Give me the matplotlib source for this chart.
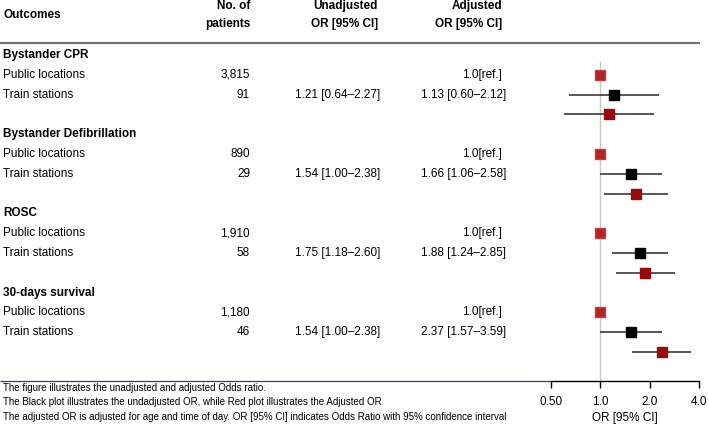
import numpy as np
import matplotlib.pyplot as plt
from matplotlib.ticker import FixedLocator, FixedFormatter, NullLocator

# Data
outcomes = ["Bystander CPR", "Bystander Defibrillation", "ROSC", "30-days survival"]
n_public = ["3,815", "890", "1,910", "1,180"]
n_train = ["91", "29", "58", "46"]
ref_or = [1.0, 1.0, 1.0, 1.0]
unadj_or = [1.21, 1.54, 1.75, 1.54]
unadj_lo = [0.64, 1.00, 1.18, 1.00]
unadj_hi = [2.27, 2.38, 2.60, 2.38]
adj_or = [1.13, 1.66, 1.88, 2.37]
adj_lo = [0.60, 1.06, 1.24, 1.57]
adj_hi = [2.12, 2.58, 2.85, 3.59]
ticks = [0.5, 1.0, 2.0, 4.0]
tick_labels = ["0.50", "1.0", "2.0", "4.0"]
footnotes = [
    "The figure illustrates the unadjusted and adjusted Odds ratio.",
    "The Black plot illustrates the undadjusted OR, while Red plot illustrates the Adjusted OR",
    "The adjusted OR is adjusted for age and time of day. OR [95% CI] indicates Odds Ratio with 95% confidence interval",
]

W, H = 709, 426
fig = plt.figure(figsize=(W / 100, H / 100), dpi=100)

main_font = ['Liberation Sans', 'DejaVu Sans']
narrow_font = ['Liberation Sans Narrow', 'Liberation Sans', 'DejaVu Sans']
fs = 8.5

# row geometry: row i sits at pixel 55 + 19.8*i
row0, step = 55.0, 19.8
def row_of(px):
    return (px - row0) / step

# table axes covering the whole figure, x in pixels, y in rows
tab = fig.add_axes([0, 0, 1, 1])
tab.set_xlim(0, W)
tab.set_ylim(row_of(H), row_of(0))
tab.axis('off')

# headers
tab.text(3, row_of(15), "Outcomes", fontsize=fs, fontweight='bold', family=main_font, va='center')
tab.text(250, row_of(6), "No. of", fontsize=fs, fontweight='bold', family=main_font, va='center', ha='right')
tab.text(250, row_of(24), "patients", fontsize=fs, fontweight='bold', family=main_font, va='center', ha='right')
tab.text(378, row_of(6), "Unadjusted", fontsize=fs, fontweight='bold', family=main_font, va='center', ha='right')
tab.text(378, row_of(24), "OR [95% CI]", fontsize=fs, fontweight='bold', family=main_font, va='center', ha='right')
tab.text(502, row_of(6), "Adjusted", fontsize=fs, fontweight='bold', family=main_font, va='center', ha='right')
tab.text(502, row_of(24), "OR [95% CI]", fontsize=fs, fontweight='bold', family=main_font, va='center', ha='right')
tab.plot([0, 700], [row_of(43)] * 2, color='#707078', lw=1.5, solid_capstyle='butt')

for g, name in enumerate(outcomes):
    r = 4 * g
    tab.text(3, r, name, fontsize=fs, fontweight='bold', family=main_font, va='center')
    tab.text(3, r + 1, "Public locations", fontsize=fs, family=main_font, va='center')
    tab.text(3, r + 2, "Train stations", fontsize=fs, family=main_font, va='center')
    tab.text(250, r + 1, n_public[g], fontsize=fs, family=main_font, va='center', ha='right')
    tab.text(250, r + 2, n_train[g], fontsize=fs, family=main_font, va='center', ha='right')
    tab.text(502, r + 1, f"{ref_or[g]:.1f}[ref.]", fontsize=fs, family=main_font, va='center', ha='right')
    tab.text(380, r + 2, f"{unadj_or[g]:.2f} [{unadj_lo[g]:.2f}\u2013{unadj_hi[g]:.2f}]",
             fontsize=fs, family=main_font, va='center', ha='right')
    tab.text(506, r + 2, f"{adj_or[g]:.2f} [{adj_lo[g]:.2f}\u2013{adj_hi[g]:.2f}]",
             fontsize=fs, family=main_font, va='center', ha='right')

# footnote separator and notes
tab.plot([0, 551], [row_of(381)] * 2, color='#3a3a6e', lw=0.9, solid_capstyle='butt')
for k, note in enumerate(footnotes):
    tab.text(3, row_of(388 + 14.5 * k), note, fontsize=7, family=narrow_font, va='center')

# forest plot axes
ax = fig.add_axes([551 / W, 1 - 381 / H, 148 / W, (381 - 43) / H])
ax.set_xscale('log', base=2)
ax.set_xlim(0.5, 4.0)
ax.set_ylim(row_of(381), row_of(43))
ax.patch.set_alpha(0)

y_top = (row_of(381) - row_of(62)) / (row_of(381) - row_of(43))
ax.axvline(1.0, ymin=0, ymax=y_top, color='#c8c8c8', lw=1, zorder=0)

rows_pub = np.arange(len(outcomes)) * 4 + 1
rows_un = rows_pub + 1
rows_adj = rows_pub + 2
ax.errorbar(unadj_or, rows_un,
            xerr=[np.subtract(unadj_or, unadj_lo), np.subtract(unadj_hi, unadj_or)],
            fmt='s', color='#000000', ecolor='#3a3a3a', elinewidth=1.2, capsize=0,
            markersize=6.5, zorder=3)
ax.errorbar(adj_or, rows_adj,
            xerr=[np.subtract(adj_or, adj_lo), np.subtract(adj_hi, adj_or)],
            fmt='s', color='#950a0a', ecolor='#3a3a3a', elinewidth=1.2, capsize=0,
            markersize=6.5, zorder=3)
ax.plot(ref_or, rows_pub, 's', color='#b02525', markeredgecolor='#c04040', markersize=6.5, zorder=3)

for s in ['top', 'left', 'right']:
    ax.spines[s].set_visible(False)
ax.spines['bottom'].set_color('black')
ax.spines['bottom'].set_linewidth(1.0)
ax.yaxis.set_visible(False)
ax.xaxis.set_major_locator(FixedLocator(ticks))
ax.xaxis.set_major_formatter(FixedFormatter(tick_labels))
ax.xaxis.set_minor_locator(NullLocator())
ax.tick_params(axis='x', direction='out', length=5, width=1, pad=6, labelsize=8.5)
for lab in ax.get_xticklabels():
    lab.set_family(narrow_font)
ax.set_xlabel("OR [95% CI]", fontsize=8.5, family=narrow_font, labelpad=2.5)

fig.savefig("out.png", dpi=100)
